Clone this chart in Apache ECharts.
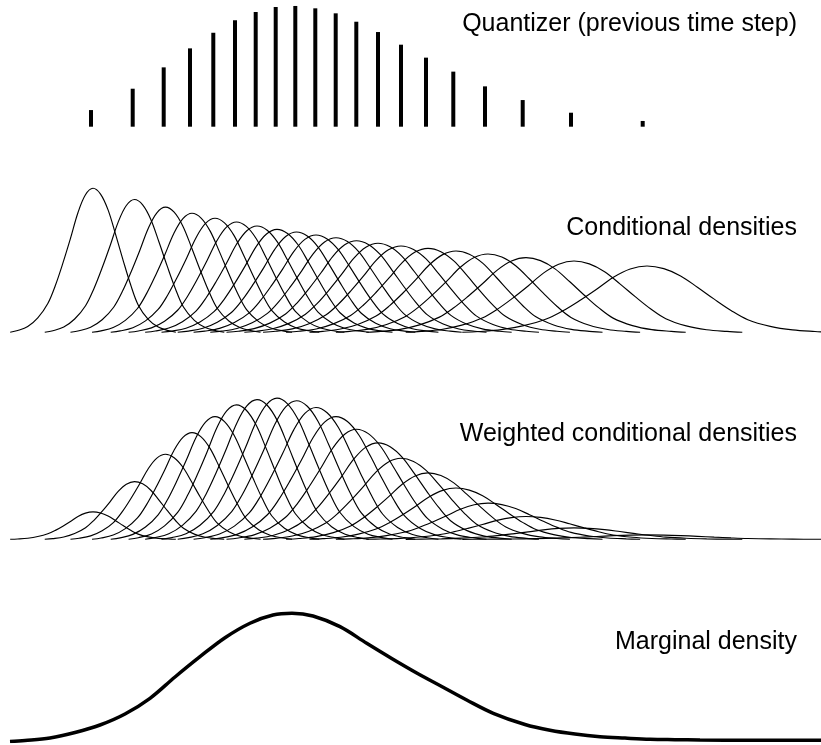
<!DOCTYPE html>
<html>
<head>
<meta charset="utf-8">
<script src="https://cdn.jsdelivr.net/npm/echarts@6/dist/echarts.min.js"></script>
<style>
html,body{margin:0;padding:0;background:#ffffff;}
#chart{width:821px;height:745px;}
</style>
</head>
<body>
<div id="chart"></div>
<script>
// ---------- data ----------
// Quantizer grid points (previous time step) and their weights
const quantX = [9.10, 13.27, 16.37, 19.00, 21.33, 23.50, 25.57, 27.57, 29.53, 31.53,
                33.57, 35.63, 37.80, 40.10, 42.60, 45.33, 48.50, 52.27, 57.10, 64.27];
const quantW = [0.0113, 0.0258, 0.0403, 0.0532, 0.0638, 0.0723, 0.0779, 0.0813, 0.0820, 0.0804,
                0.0770, 0.0713, 0.0643, 0.0557, 0.0469, 0.0374, 0.0274, 0.0181, 0.0095, 0.0039];

// Conditional densities: mode, peak value and spread of each curve
const condMode  = [9.30, 13.45, 16.55, 19.20, 21.50, 23.65, 25.70, 27.70, 29.65, 31.60,
                   33.60, 35.65, 37.80, 40.10, 42.80, 45.60, 48.80, 52.60, 57.40, 64.70];
const condPeak  = [0.1590, 0.1466, 0.1382, 0.1314, 0.1259, 0.1218, 0.1174, 0.1137, 0.1107, 0.1074,
                   0.1044, 0.1011, 0.0983, 0.0953, 0.0927, 0.0898, 0.0865, 0.0824, 0.0787, 0.0732];
const condSigma = [2.51, 2.72, 2.88, 3.03, 3.16, 3.27, 3.39, 3.50, 3.60, 3.71,
                   3.81, 3.94, 4.05, 4.18, 4.30, 4.44, 4.61, 4.84, 5.10, 5.60];

// Common curve profile (offset in spreads, relative height)
const shapeU = [-3.3, -3.0, -2.6, -2.2, -1.8, -1.5, -1.2, -0.9, -0.6, -0.3, 0,
                0.3, 0.6, 0.9, 1.2, 1.5, 1.8, 2.2, 2.6, 3.0, 3.3];
const shapeV = [0, 0.012, 0.040, 0.100, 0.200, 0.325, 0.480, 0.650, 0.830, 0.955, 1,
                0.960, 0.850, 0.680, 0.500, 0.330, 0.190, 0.090, 0.036, 0.012, 0];

// Marginal density
const margX = [1.0, 2.5, 5.0, 7.5, 10.0, 12.5, 15.0, 17.5, 20.0, 22.5, 25.0, 27.3, 29.2,
               31.3, 34.0, 36.67, 39.17, 41.67, 44.17, 46.67, 49.33, 52.5, 55.0, 57.5, 60.0,
               62.5, 65.0, 67.5, 70.0, 75.0, 82.1];
const margY = [0, 0.00029, 0.00103, 0.00264, 0.00484, 0.00807, 0.01268, 0.01894, 0.02490,
               0.03048, 0.03473, 0.03714, 0.03764, 0.03685, 0.03371, 0.02883, 0.02437, 0.02011,
               0.01615, 0.01218, 0.00828, 0.00499, 0.00329, 0.00217, 0.00141, 0.00100, 0.00065,
               0.00053, 0.00044, 0.00038, 0.00035];

const panelTitles = ['Quantizer (previous time step)', 'Conditional densities',
                     'Weighted conditional densities', 'Marginal density'];

// ---------- layout ----------
const X_MIN = 0, X_MAX = 82.1;
const panels = [
  { top: 1.55,   height: 125.15, yMax: 0.085,  titleY: 24   },
  { top: 178.33, height: 153.97, yMax: 0.17,   titleY: 228  },
  { top: 379.0,  height: 160.3,  yMax: 0.0105, titleY: 434  },
  { top: 605.26, height: 136.24, yMax: 0.04,   titleY: 642.3 }
];

const grids = panels.map(p => ({ left: 0, width: 821, top: p.top, height: p.height, containLabel: false }));
const xAxes = panels.map((p, i) => ({ type: 'value', gridIndex: i, min: X_MIN, max: X_MAX, show: false }));
const yAxes = panels.map((p, i) => ({ type: 'value', gridIndex: i, min: 0, max: p.yMax, show: false }));

function curve(i, factor) {
  return shapeU.map((u, k) => [condMode[i] + u * condSigma[i], condPeak[i] * shapeV[k] * factor]);
}

const series = [];
series.push({
  type: 'bar', xAxisIndex: 0, yAxisIndex: 0,
  data: quantX.map((x, i) => [x, quantW[i]]),
  barWidth: 4,
  itemStyle: { color: '#000' },
  silent: true
});
const thin = { color: '#000', width: 1.15 };
for (let i = 0; i < condMode.length; i++) {
  series.push({
    type: 'line', xAxisIndex: 1, yAxisIndex: 1, data: curve(i, 1),
    smooth: 0.35, showSymbol: false, symbol: 'none', lineStyle: thin, silent: true
  });
}
for (let i = 0; i < condMode.length; i++) {
  series.push({
    type: 'line', xAxisIndex: 2, yAxisIndex: 2, data: curve(i, quantW[i]),
    smooth: 0.35, showSymbol: false, symbol: 'none', lineStyle: thin, silent: true
  });
}
series.push({
  type: 'line', xAxisIndex: 3, yAxisIndex: 3,
  data: margX.map((x, i) => [x, margY[i]]),
  smooth: 0.35, showSymbol: false, symbol: 'none',
  lineStyle: { color: '#000', width: 3.5 }, silent: true
});

const graphics = panels.map((p, i) => ({
  type: 'text', right: 24, top: p.titleY - 12.5,
  style: { text: panelTitles[i], fill: '#000', fontSize: 25,
           fontFamily: 'Liberation Sans, Arial, sans-serif' },
  silent: true
}));

const chart = echarts.init(document.getElementById('chart'), null, { renderer: 'canvas' });
chart.setOption({
  animation: false,
  backgroundColor: '#ffffff',
  grid: grids,
  xAxis: xAxes,
  yAxis: yAxes,
  series: series,
  graphic: graphics
});
</script>
</body>
</html>
